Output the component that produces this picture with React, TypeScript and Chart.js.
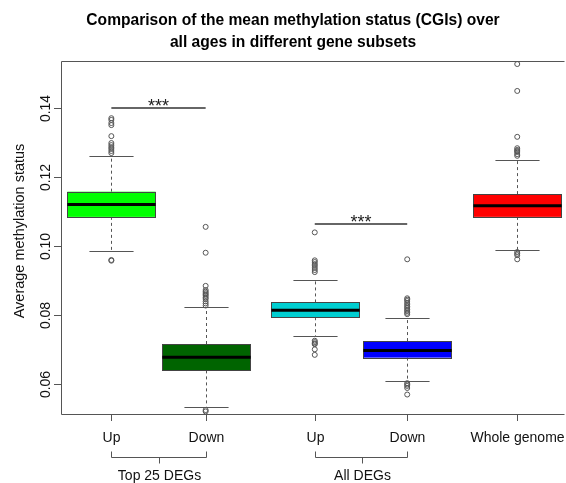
import React, { useEffect, useRef } from 'react';
import { Chart, registerables } from 'chart.js';
Chart.register(...registerables);

const categories = ['Up', 'Down', 'Up', 'Down', 'Whole genome'];
const positions = [1, 2.02, 3.2, 4.2, 5.39];
const boxColors = ['#00FF00', '#006400', '#00CED1', '#0000FF', '#FF0000'];
const whiskerLow = [0.0984, 0.0533, 0.0738, 0.0608, 0.0987];
const q1 = [0.1083, 0.0638, 0.0792, 0.0675, 0.1083];
const medians = [0.1119, 0.0676, 0.0812, 0.0696, 0.1115];
const q3 = [0.1156, 0.07145, 0.0835, 0.0723, 0.1149];
const whiskerHigh = [0.1259, 0.0822, 0.0901, 0.0791, 0.1249];

const outliersTop25Up = [0.1369, 0.1364, 0.1355, 0.1349, 0.1317, 0.1297, 0.1291, 0.1285, 0.128, 0.1274, 0.1268, 0.0958, 0.0956];
const outliersTop25Down = [0.1054, 0.0979, 0.0883, 0.0871, 0.0866, 0.0862, 0.0858, 0.0854, 0.0849, 0.0845, 0.0838, 0.0832, 0.0826, 0.0523, 0.0519];
const outliersAllUp = [0.1038, 0.0957, 0.0952, 0.0946, 0.0941, 0.0935, 0.0929, 0.0923, 0.0724, 0.072, 0.0716, 0.0714, 0.0699, 0.0683];
const outliersAllDown = [0.096, 0.0847, 0.0843, 0.0839, 0.0833, 0.0828, 0.0823, 0.0819, 0.0814, 0.081, 0.0805, 0.0801, 0.0601, 0.0597, 0.0593, 0.0587, 0.0568];
const outliersWhole = [0.1526, 0.1448, 0.1315, 0.1282, 0.1277, 0.1274, 0.1271, 0.1265, 0.126, 0.0981, 0.0976, 0.0972, 0.096];
const outlierLists = [outliersTop25Up, outliersTop25Down, outliersAllUp, outliersAllDown, outliersWhole];

const yTicks = [0.06, 0.08, 0.1, 0.12, 0.14];
const yTickLabels = ['0.06', '0.08', '0.10', '0.12', '0.14'];

const groupLabels = ['Top 25 DEGs', 'All DEGs'];
const groupStart = [0, 2];
const groupEnd = [1, 3];

const sigFrom = [0, 2];
const sigTo = [1, 3];
const sigLevel = [0.1399, 0.1063];
const sigText = ['***', '***'];

const titleLines = ['Comparison of the mean methylation status (CGIs) over', 'all ages in different gene subsets'];
const yTitle = 'Average methylation status';

const X_MIN = 0.4662;
const X_MAX = 5.8797;
const Y_MIN = 0.05116;
const Y_MAX = 0.15319;
const BOX_WIDTH = 0.955;

const FONT = '"Liberation Sans", Arial, Helvetica, sans-serif';

export default function App() {
  const ref = useRef<HTMLCanvasElement>(null);
  useEffect(() => {
    const canvas = ref.current;
    if (!canvas) return;
    const outlierData: { x: number; y: number }[] = [];
    outlierLists.forEach((list, i) => list.forEach((v) => outlierData.push({ x: positions[i], y: v })));

    const boxPlugin = {
      id: 'rbox',
      beforeDatasetsDraw(chart: any) {
        const ctx = chart.ctx;
        const xs = chart.scales.x;
        const ys = chart.scales.y;
        ctx.save();
        for (let i = 0; i < positions.length; i++) {
          const cx = Math.round(xs.getPixelForValue(positions[i])) + 0.5;
          const half = (xs.getPixelForValue(positions[i] + BOX_WIDTH / 2) - xs.getPixelForValue(positions[i] - BOX_WIDTH / 2)) / 2;
          const capHalf = half / 2;
          const yLo = ys.getPixelForValue(whiskerLow[i]);
          const yHi = ys.getPixelForValue(whiskerHigh[i]);
          const yQ1 = ys.getPixelForValue(q1[i]);
          const yQ3 = ys.getPixelForValue(q3[i]);
          const yMed = ys.getPixelForValue(medians[i]);
          // whiskers
          ctx.strokeStyle = '#555';
          ctx.lineWidth = 1;
          ctx.setLineDash([3, 3]);
          ctx.beginPath();
          ctx.moveTo(cx, yQ1);
          ctx.lineTo(cx, yLo);
          ctx.moveTo(cx, yQ3);
          ctx.lineTo(cx, yHi);
          ctx.stroke();
          ctx.setLineDash([]);
          // caps
          ctx.beginPath();
          ctx.moveTo(cx - capHalf, Math.round(yLo) + 0.5);
          ctx.lineTo(cx + capHalf, Math.round(yLo) + 0.5);
          ctx.moveTo(cx - capHalf, Math.round(yHi) + 0.5);
          ctx.lineTo(cx + capHalf, Math.round(yHi) + 0.5);
          ctx.stroke();
          // box
          ctx.fillStyle = boxColors[i];
          ctx.fillRect(cx - half, yQ3, half * 2, yQ1 - yQ3);
          ctx.strokeStyle = '#444';
          ctx.strokeRect(Math.round(cx - half) + 0.5, Math.round(yQ3) + 0.5, Math.round(half * 2), Math.round(yQ1 - yQ3));
          // median
          ctx.strokeStyle = '#000';
          ctx.lineWidth = 3;
          ctx.beginPath();
          ctx.moveTo(cx - half, yMed);
          ctx.lineTo(cx + half, yMed);
          ctx.stroke();
        }
        ctx.restore();
      },
      afterDraw(chart: any) {
        const ctx = chart.ctx;
        const xs = chart.scales.x;
        const ys = chart.scales.y;
        const area = chart.chartArea;
        ctx.save();
        // frame (left, top, bottom)
        ctx.strokeStyle = '#555';
        ctx.lineWidth = 1;
        ctx.beginPath();
        ctx.moveTo(area.right + 2, area.top - 0.5);
        ctx.lineTo(area.left - 0.5, area.top - 0.5);
        ctx.lineTo(area.left - 0.5, area.bottom + 0.5);
        ctx.lineTo(area.right + 2, area.bottom + 0.5);
        ctx.stroke();
        // y ticks
        ctx.fillStyle = '#111';
        ctx.font = `14px ${FONT}`;
        for (let i = 0; i < yTicks.length; i++) {
          const y = Math.round(ys.getPixelForValue(yTicks[i])) + 0.5;
          ctx.beginPath();
          ctx.moveTo(area.left - 0.5, y);
          ctx.lineTo(area.left - 8, y);
          ctx.stroke();
          ctx.save();
          ctx.translate(49.5, y);
          ctx.rotate(-Math.PI / 2);
          ctx.textAlign = 'center';
          ctx.textBaseline = 'alphabetic';
          ctx.fillText(yTickLabels[i], 0, 0);
          ctx.restore();
        }
        // y title
        ctx.save();
        ctx.font = `14.5px ${FONT}`;
        ctx.translate(23.5, 231);
        ctx.rotate(-Math.PI / 2);
        ctx.textAlign = 'center';
        ctx.textBaseline = 'alphabetic';
        ctx.fillText(yTitle, 0, 0);
        ctx.restore();
        // x ticks
        ctx.textAlign = 'center';
        ctx.textBaseline = 'alphabetic';
        for (let i = 0; i < positions.length; i++) {
          const x = Math.round(xs.getPixelForValue(positions[i])) + 0.5;
          ctx.beginPath();
          ctx.moveTo(x, area.bottom + 0.5);
          ctx.lineTo(x, area.bottom + 7);
          ctx.stroke();
          ctx.fillText(categories[i], x, 442);
        }
        // group brackets
        for (let g = 0; g < groupLabels.length; g++) {
          const x0 = Math.round(xs.getPixelForValue(positions[groupStart[g]])) + 0.5;
          const x1 = Math.round(xs.getPixelForValue(positions[groupEnd[g]])) + 0.5;
          const xm = Math.round((x0 + x1) / 2) + 0.5;
          ctx.beginPath();
          ctx.moveTo(x0, 451.5);
          ctx.lineTo(x0, 457.5);
          ctx.lineTo(x1, 457.5);
          ctx.lineTo(x1, 451.5);
          ctx.moveTo(xm, 457.5);
          ctx.lineTo(xm, 463.5);
          ctx.stroke();
          ctx.fillText(groupLabels[g], xm, 480);
        }
        // significance
        ctx.strokeStyle = '#333';
        ctx.lineWidth = 1.5;
        for (let s = 0; s < sigText.length; s++) {
          const x0 = xs.getPixelForValue(positions[sigFrom[s]]);
          const x1 = xs.getPixelForValue(positions[sigTo[s]]);
          const y = Math.round(ys.getPixelForValue(sigLevel[s]));
          ctx.beginPath();
          ctx.moveTo(x0, y);
          ctx.lineTo(x1, y);
          ctx.stroke();
          ctx.fillStyle = '#222';
          ctx.font = `18px ${FONT}`;
          ctx.fillText(sigText[s], (x0 + x1) / 2, y + 4);
        }
        // title
        ctx.fillStyle = '#000';
        ctx.font = `bold 15.6px ${FONT}`;
        ctx.fillText(titleLines[0], 293, 25);
        ctx.fillText(titleLines[1], 293, 47);
        ctx.restore();
      },
    };

    const chart = new Chart(canvas, {
      type: 'scatter',
      data: {
        datasets: [
          {
            data: outlierData,
            pointRadius: 2.5,
            pointHoverRadius: 2.5,
            pointBorderColor: '#555',
            pointBackgroundColor: 'rgba(0,0,0,0)',
            pointBorderWidth: 1,
            showLine: false,
          },
        ],
      },
      options: {
        responsive: false,
        animation: false,
        devicePixelRatio: 1,
        events: [],
        layout: { padding: { left: 62, top: 62, right: 0, bottom: 69 } },
        scales: {
          x: { type: 'linear', display: false, min: X_MIN, max: X_MAX },
          y: { type: 'linear', display: false, min: Y_MIN, max: Y_MAX },
        },
        plugins: {
          legend: { display: false },
          tooltip: { enabled: false },
          title: { display: false },
        },
      },
      plugins: [boxPlugin],
    });
    return () => chart.destroy();
  }, []);

  return (
    <div style={{ position: 'absolute', left: 0, top: 0, width: 566, height: 483, background: '#fff' }}>
      <canvas ref={ref} width={566} height={483} style={{ display: 'block', width: 566, height: 483 }} />
    </div>
  );
}
